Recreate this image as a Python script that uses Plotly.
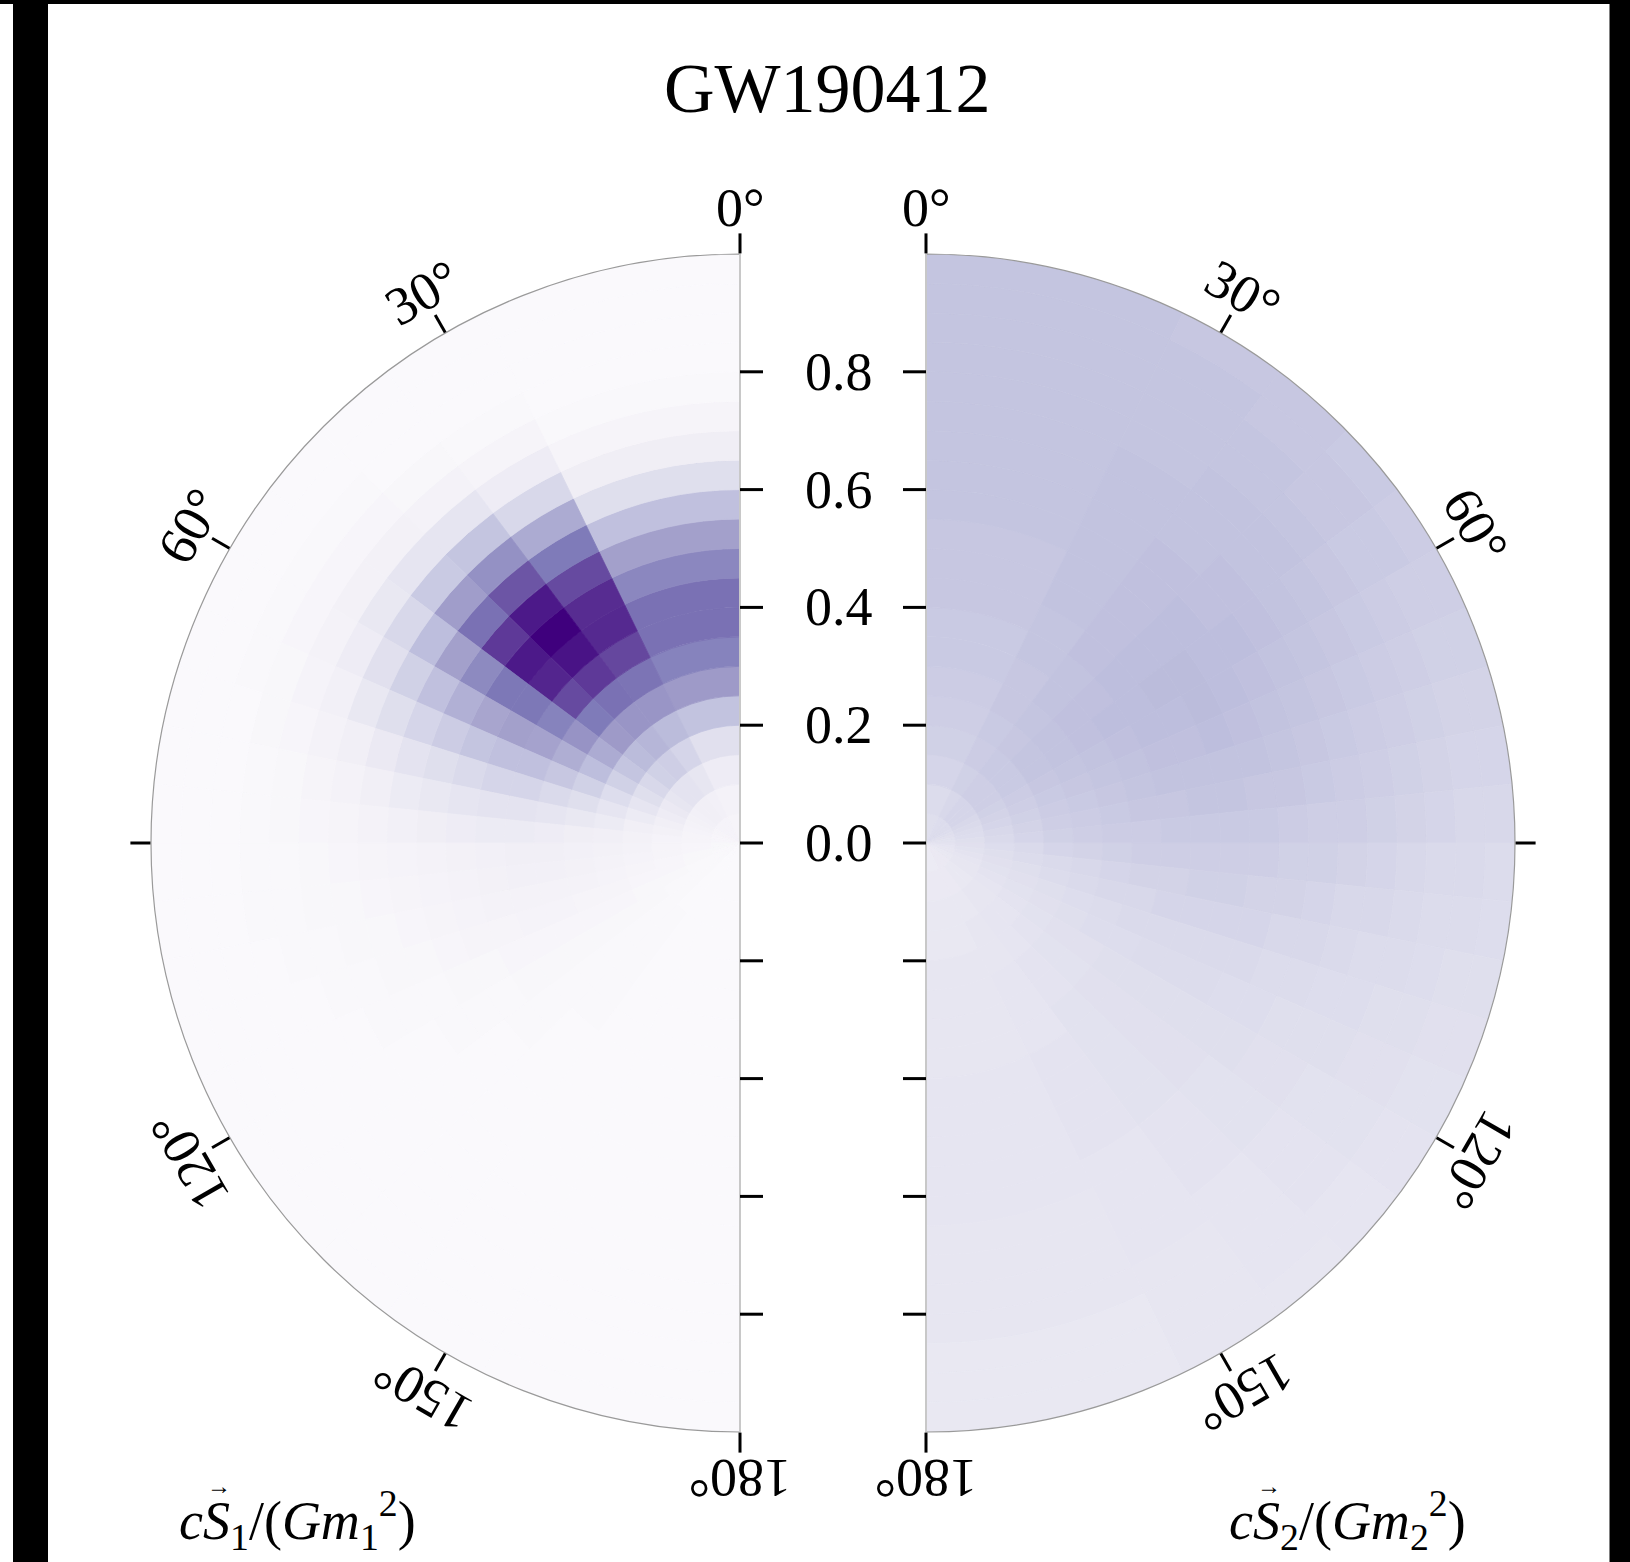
import numpy as np
import plotly.graph_objects as go

# ---------------- data ----------------
title_text = "GW190412"
spin_mag_edges = [0.00, 0.05, 0.10, 0.15, 0.20, 0.25, 0.30, 0.35, 0.40, 0.45, 0.50,
                  0.55, 0.60, 0.65, 0.70, 0.75, 0.80, 0.85, 0.90, 0.95, 1.00]
cos_tilt_edges = [1.0, 0.9, 0.8, 0.7, 0.6, 0.5, 0.4, 0.3, 0.2, 0.1, 0.0,
                  -0.1, -0.2, -0.3, -0.4, -0.5, -0.6, -0.7, -0.8, -0.9, -1.0]
angle_ticks = [0, 30, 60, 90, 120, 150, 180]
angle_tick_labels = ["0°", "30°", "60°", "", "120°", "150°", "180°"]
radial_ticks = [0.0, 0.2, 0.4, 0.6, 0.8]
radial_tick_labels = ["0.0", "0.2", "0.4", "0.6", "0.8"]
label_1 = "<i>cS</i><sub>1</sub>/(<i>Gm</i><sub>1</sub><sup>2</sup>)"
label_2 = "<i>cS</i><sub>2</sub>/(<i>Gm</i><sub>2</sub><sup>2</sup>)"

# rows: spin-magnitude bins (inner -> outer); columns: cos(tilt) bins (0 deg -> 180 deg)
spin1_density = [
    [0.06, 0.07, 0.07, 0.07, 0.07, 0.06, 0.06, 0.05, 0.05, 0.05, 0.04, 0.04, 0.04, 0.03, 0.03, 0.03, 0.03, 0.02, 0.02, 0.02],
    [0.08, 0.10, 0.11, 0.11, 0.10, 0.09, 0.08, 0.07, 0.06, 0.06, 0.05, 0.05, 0.04, 0.04, 0.03, 0.03, 0.03, 0.02, 0.02, 0.02],
    [0.13, 0.17, 0.19, 0.19, 0.17, 0.15, 0.13, 0.11, 0.09, 0.07, 0.06, 0.06, 0.05, 0.05, 0.04, 0.03, 0.03, 0.02, 0.02, 0.02],
    [0.21, 0.27, 0.30, 0.29, 0.26, 0.22, 0.18, 0.14, 0.11, 0.09, 0.08, 0.07, 0.06, 0.05, 0.04, 0.04, 0.03, 0.03, 0.02, 0.02],
    [0.35, 0.38, 0.40, 0.38, 0.34, 0.29, 0.23, 0.18, 0.14, 0.11, 0.09, 0.08, 0.07, 0.06, 0.05, 0.04, 0.03, 0.03, 0.02, 0.02],
    [0.50, 0.52, 0.52, 0.50, 0.44, 0.37, 0.29, 0.22, 0.16, 0.12, 0.10, 0.09, 0.08, 0.06, 0.05, 0.04, 0.03, 0.03, 0.02, 0.02],
    [0.60, 0.65, 0.66, 0.63, 0.53, 0.43, 0.33, 0.25, 0.18, 0.13, 0.11, 0.10, 0.08, 0.07, 0.05, 0.04, 0.03, 0.03, 0.02, 0.02],
    [0.66, 0.78, 0.82, 0.77, 0.60, 0.47, 0.36, 0.27, 0.19, 0.14, 0.11, 0.10, 0.08, 0.07, 0.05, 0.04, 0.03, 0.03, 0.02, 0.02],
    [0.66, 0.87, 0.94, 0.88, 0.64, 0.48, 0.36, 0.27, 0.19, 0.14, 0.10, 0.09, 0.08, 0.06, 0.05, 0.04, 0.03, 0.02, 0.02, 0.02],
    [0.58, 0.86, 1.00, 0.92, 0.64, 0.46, 0.34, 0.25, 0.18, 0.13, 0.09, 0.08, 0.07, 0.06, 0.04, 0.03, 0.03, 0.02, 0.02, 0.02],
    [0.48, 0.77, 0.92, 0.82, 0.57, 0.42, 0.31, 0.22, 0.16, 0.12, 0.08, 0.07, 0.06, 0.05, 0.04, 0.03, 0.02, 0.02, 0.02, 0.02],
    [0.36, 0.63, 0.74, 0.66, 0.48, 0.36, 0.27, 0.19, 0.14, 0.10, 0.07, 0.06, 0.05, 0.04, 0.03, 0.03, 0.02, 0.02, 0.02, 0.02],
    [0.22, 0.44, 0.54, 0.49, 0.37, 0.29, 0.22, 0.15, 0.11, 0.08, 0.06, 0.05, 0.04, 0.04, 0.03, 0.02, 0.02, 0.02, 0.02, 0.02],
    [0.12, 0.26, 0.34, 0.32, 0.26, 0.21, 0.16, 0.11, 0.08, 0.06, 0.05, 0.04, 0.04, 0.03, 0.03, 0.02, 0.02, 0.02, 0.02, 0.02],
    [0.06, 0.13, 0.18, 0.18, 0.16, 0.13, 0.10, 0.08, 0.06, 0.05, 0.04, 0.04, 0.03, 0.03, 0.02, 0.02, 0.02, 0.02, 0.02, 0.02],
    [0.03, 0.06, 0.08, 0.09, 0.09, 0.08, 0.07, 0.05, 0.04, 0.04, 0.03, 0.03, 0.03, 0.02, 0.02, 0.02, 0.02, 0.02, 0.02, 0.02],
    [0.02, 0.03, 0.04, 0.05, 0.05, 0.05, 0.04, 0.04, 0.03, 0.03, 0.03, 0.03, 0.02, 0.02, 0.02, 0.02, 0.02, 0.02, 0.02, 0.02],
    [0.02, 0.02, 0.02, 0.03, 0.03, 0.03, 0.03, 0.02, 0.02, 0.02, 0.02, 0.02, 0.02, 0.02, 0.02, 0.02, 0.02, 0.02, 0.02, 0.02],
    [0.02, 0.02, 0.02, 0.02, 0.02, 0.02, 0.02, 0.02, 0.02, 0.02, 0.02, 0.02, 0.02, 0.02, 0.02, 0.02, 0.02, 0.02, 0.02, 0.02],
    [0.02, 0.02, 0.02, 0.02, 0.02, 0.02, 0.02, 0.02, 0.02, 0.02, 0.02, 0.02, 0.02, 0.02, 0.02, 0.02, 0.02, 0.02, 0.02, 0.02],
]

spin2_density = [
    [0.22, 0.23, 0.24, 0.24, 0.24, 0.23, 0.22, 0.21, 0.20, 0.20, 0.19, 0.18, 0.17, 0.17, 0.16, 0.16, 0.15, 0.15, 0.15, 0.14],
    [0.24, 0.26, 0.27, 0.27, 0.27, 0.26, 0.25, 0.24, 0.23, 0.22, 0.21, 0.20, 0.19, 0.18, 0.17, 0.17, 0.16, 0.16, 0.15, 0.15],
    [0.27, 0.29, 0.30, 0.30, 0.30, 0.29, 0.28, 0.27, 0.26, 0.25, 0.23, 0.22, 0.21, 0.20, 0.19, 0.18, 0.17, 0.17, 0.16, 0.16],
    [0.29, 0.31, 0.32, 0.32, 0.32, 0.31, 0.30, 0.29, 0.28, 0.27, 0.25, 0.24, 0.22, 0.21, 0.20, 0.19, 0.18, 0.18, 0.17, 0.16],
    [0.30, 0.32, 0.33, 0.34, 0.34, 0.33, 0.32, 0.31, 0.30, 0.29, 0.27, 0.25, 0.24, 0.22, 0.21, 0.20, 0.19, 0.18, 0.17, 0.17],
    [0.31, 0.33, 0.34, 0.35, 0.35, 0.34, 0.33, 0.32, 0.31, 0.30, 0.28, 0.26, 0.25, 0.23, 0.22, 0.21, 0.20, 0.19, 0.18, 0.17],
    [0.32, 0.33, 0.35, 0.36, 0.36, 0.35, 0.34, 0.33, 0.32, 0.31, 0.29, 0.27, 0.26, 0.24, 0.23, 0.21, 0.20, 0.19, 0.18, 0.17],
    [0.32, 0.34, 0.35, 0.36, 0.37, 0.36, 0.35, 0.34, 0.33, 0.31, 0.30, 0.28, 0.26, 0.25, 0.23, 0.22, 0.21, 0.20, 0.18, 0.17],
    [0.33, 0.34, 0.36, 0.37, 0.37, 0.37, 0.36, 0.35, 0.33, 0.32, 0.30, 0.28, 0.27, 0.25, 0.24, 0.22, 0.21, 0.20, 0.19, 0.18],
    [0.33, 0.35, 0.36, 0.37, 0.38, 0.37, 0.36, 0.35, 0.34, 0.32, 0.30, 0.29, 0.27, 0.25, 0.24, 0.22, 0.21, 0.20, 0.19, 0.18],
    [0.33, 0.35, 0.36, 0.37, 0.38, 0.38, 0.37, 0.35, 0.34, 0.32, 0.30, 0.29, 0.27, 0.25, 0.24, 0.22, 0.21, 0.20, 0.19, 0.18],
    [0.34, 0.35, 0.36, 0.37, 0.37, 0.37, 0.36, 0.35, 0.33, 0.32, 0.30, 0.28, 0.27, 0.25, 0.23, 0.22, 0.21, 0.20, 0.19, 0.18],
    [0.34, 0.35, 0.36, 0.36, 0.37, 0.36, 0.35, 0.34, 0.33, 0.31, 0.29, 0.28, 0.26, 0.24, 0.23, 0.22, 0.20, 0.19, 0.18, 0.18],
    [0.34, 0.35, 0.35, 0.36, 0.36, 0.35, 0.34, 0.33, 0.32, 0.30, 0.29, 0.27, 0.26, 0.24, 0.22, 0.21, 0.20, 0.19, 0.18, 0.17],
    [0.34, 0.35, 0.35, 0.35, 0.35, 0.34, 0.33, 0.32, 0.31, 0.30, 0.28, 0.26, 0.25, 0.23, 0.22, 0.21, 0.20, 0.19, 0.18, 0.17],
    [0.34, 0.34, 0.35, 0.35, 0.34, 0.33, 0.32, 0.31, 0.30, 0.29, 0.27, 0.26, 0.24, 0.23, 0.22, 0.20, 0.19, 0.18, 0.18, 0.17],
    [0.34, 0.34, 0.34, 0.34, 0.33, 0.32, 0.31, 0.30, 0.29, 0.28, 0.26, 0.25, 0.24, 0.22, 0.21, 0.20, 0.19, 0.18, 0.17, 0.17],
    [0.34, 0.34, 0.34, 0.33, 0.32, 0.31, 0.30, 0.29, 0.28, 0.27, 0.25, 0.24, 0.23, 0.22, 0.21, 0.20, 0.19, 0.18, 0.17, 0.16],
    [0.34, 0.34, 0.33, 0.33, 0.32, 0.30, 0.29, 0.28, 0.27, 0.26, 0.25, 0.24, 0.22, 0.21, 0.20, 0.19, 0.18, 0.18, 0.17, 0.16],
    [0.34, 0.33, 0.33, 0.32, 0.31, 0.30, 0.29, 0.28, 0.27, 0.26, 0.24, 0.23, 0.22, 0.21, 0.20, 0.19, 0.18, 0.17, 0.17, 0.16],
]

# ---------------- geometry (pixels) ----------------
W, H = 1630, 1562
R = 589.0            # disk radius in px
CX1, CX2, CY = 740.0, 926.0, 843.0
D = (CX2 - CX1) / R  # offset of right disk centre in overlay units

FONT = "Liberation Serif"
CSCALE = "Purples"

theta_edges = np.degrees(np.arccos(np.array(cos_tilt_edges)))
theta_centres = 0.5 * (theta_edges[:-1] + theta_edges[1:])
theta_widths = np.diff(theta_edges)
r_edges = np.array(spin_mag_edges)


def cells(grid):
    base, length, th, wd, col = [], [], [], [], []
    for i in range(len(r_edges) - 1):
        for j in range(len(theta_centres)):
            base.append(r_edges[i])
            length.append(r_edges[i + 1] - r_edges[i])
            th.append(theta_centres[j])
            wd.append(theta_widths[j])
            col.append(grid[i][j])
    return base, length, th, wd, col


fig = go.Figure()

for grid, sub in [(spin1_density, "polar"), (spin2_density, "polar2")]:
    b, l, t, w, c = cells(grid)
    fig.add_trace(go.Barpolar(
        r=l, base=b, theta=t, width=w, subplot=sub,
        marker=dict(color=c, colorscale=CSCALE, cmin=0, cmax=1,
                    line=dict(color=c, colorscale=CSCALE, cmin=0, cmax=1, width=0.8)),
        hoverinfo="skip", showlegend=False,
    ))

# invisible overlay trace (cartesian frame in units of disk radius)
fig.add_trace(go.Scatter(x=[None], y=[None], showlegend=False, hoverinfo="skip"))


def angular(direction):
    return dict(
        rotation=90, direction=direction, tickmode="array", tickvals=angle_ticks,
        ticks="outside", ticklen=20, tickwidth=2.5, tickcolor="black",
        showticklabels=False, showgrid=False, showline=True,
        linecolor="#9a9a9a", linewidth=1.2,
    )


radial = dict(range=[0, 1], showline=False, showgrid=False, ticks="",
              showticklabels=False)

fig.update_layout(
    width=W, height=H,
    margin=dict(l=0, r=0, t=0, b=0),
    paper_bgcolor="white", plot_bgcolor="rgba(0,0,0,0)",
    polar=dict(
        domain=dict(x=[(CX1 - R) / W, CX1 / W], y=[(H - CY - R) / H, (H - CY + R) / H]),
        sector=[90, 270], bgcolor="rgba(0,0,0,0)", bargap=0, hole=0,
        angularaxis=angular("counterclockwise"), radialaxis=radial,
    ),
    polar2=dict(
        domain=dict(x=[CX2 / W, (CX2 + R) / W], y=[(H - CY - R) / H, (H - CY + R) / H]),
        sector=[-90, 90], bgcolor="rgba(0,0,0,0)", bargap=0, hole=0,
        angularaxis=angular("clockwise"), radialaxis=radial,
    ),
    xaxis=dict(domain=[0, 1], range=[-CX1 / R, (W - CX1) / R], visible=False, fixedrange=True),
    yaxis=dict(domain=[0, 1], range=[-(H - CY) / R, CY / R], visible=False, fixedrange=True),
    showlegend=False,
)

shapes = []
# straight edges of the two half disks
for x0 in [0.0, D]:
    shapes.append(dict(type="line", xref="x", yref="y", x0=x0, x1=x0, y0=-1, y1=1,
                       line=dict(color="#c8c8c8", width=2), layer="above"))
# radial ticks on both sides of the gap (upper labelled, lower unlabelled)
tick_len = 23 / R
for v in radial_ticks:
    for yy in ([v] if v == 0 else [v, -v]):
        shapes.append(dict(type="line", xref="x", yref="y", x0=0, x1=tick_len, y0=yy, y1=yy,
                           line=dict(color="black", width=3), layer="above"))
        shapes.append(dict(type="line", xref="x", yref="y", x0=D - tick_len, x1=D, y0=yy, y1=yy,
                           line=dict(color="black", width=3), layer="above"))
# black frame strips seen at the edge of the picture
shapes.append(dict(type="rect", xref="paper", yref="paper", x0=13 / W, x1=48 / W, y0=0, y1=1,
                   fillcolor="black", line=dict(width=0), layer="above"))
shapes.append(dict(type="rect", xref="paper", yref="paper", x0=0, x1=1, y0=1 - 4 / H, y1=1,
                   fillcolor="black", line=dict(width=0), layer="above"))
shapes.append(dict(type="rect", xref="paper", yref="paper", x0=1610 / W, x1=1.02, y0=0, y1=1,
                   fillcolor="black", line=dict(color="black", width=1), layer="above"))

annotations = []
# radial tick labels in the gap
for v, txt in zip(radial_ticks, radial_tick_labels):
    annotations.append(dict(x=0.168, y=v, xref="x", yref="y", text=txt, showarrow=False,
                            font=dict(family=FONT, size=54, color="black"),
                            xanchor="center", yanchor="middle"))
# tangential angular labels
RHO = 1.078
for ang, txt in zip(angle_ticks, angle_tick_labels):
    if not txt:
        continue
    a = np.radians(ang)
    annotations.append(dict(x=-RHO * np.sin(a), y=RHO * np.cos(a), xref="x", yref="y",
                            text=txt, showarrow=False, textangle=-ang,
                            font=dict(family=FONT, size=54, color="black"),
                            xanchor="center", yanchor="middle"))
    annotations.append(dict(x=D + RHO * np.sin(a), y=RHO * np.cos(a), xref="x", yref="y",
                            text=txt, showarrow=False, textangle=ang,
                            font=dict(family=FONT, size=54, color="black"),
                            xanchor="center", yanchor="middle"))
# axis labels (with vector arrows over S)
LAB_Y = -(1520 - CY) / R
for lx, txt in [(177, label_1), (1227, label_2)]:
    annotations.append(dict(x=(lx - CX1) / R, y=LAB_Y, xref="x", yref="y", text=txt,
                            showarrow=False, font=dict(family=FONT, size=54, color="black"),
                            xanchor="left", yanchor="middle"))
    annotations.append(dict(x=(lx + 42 - CX1) / R, y=-(1486 - CY) / R, xref="x", yref="y",
                            text="→", showarrow=False,
                            font=dict(family=FONT, size=24, color="black"),
                            xanchor="center", yanchor="middle"))
# title
annotations.append(dict(x=828 / W, y=1 - 88 / H, xref="paper", yref="paper", text=title_text,
                        showarrow=False, font=dict(family=FONT, size=70, color="black"),
                        xanchor="center", yanchor="middle"))

fig.update_layout(shapes=shapes, annotations=annotations)
fig.write_html(
    "out.html",
    config={"displayModeBar": False},
    post_script=("document.body.style.margin='0px';document.body.style.overflow='hidden';"
                 "document.documentElement.style.overflow='hidden';"),
)
